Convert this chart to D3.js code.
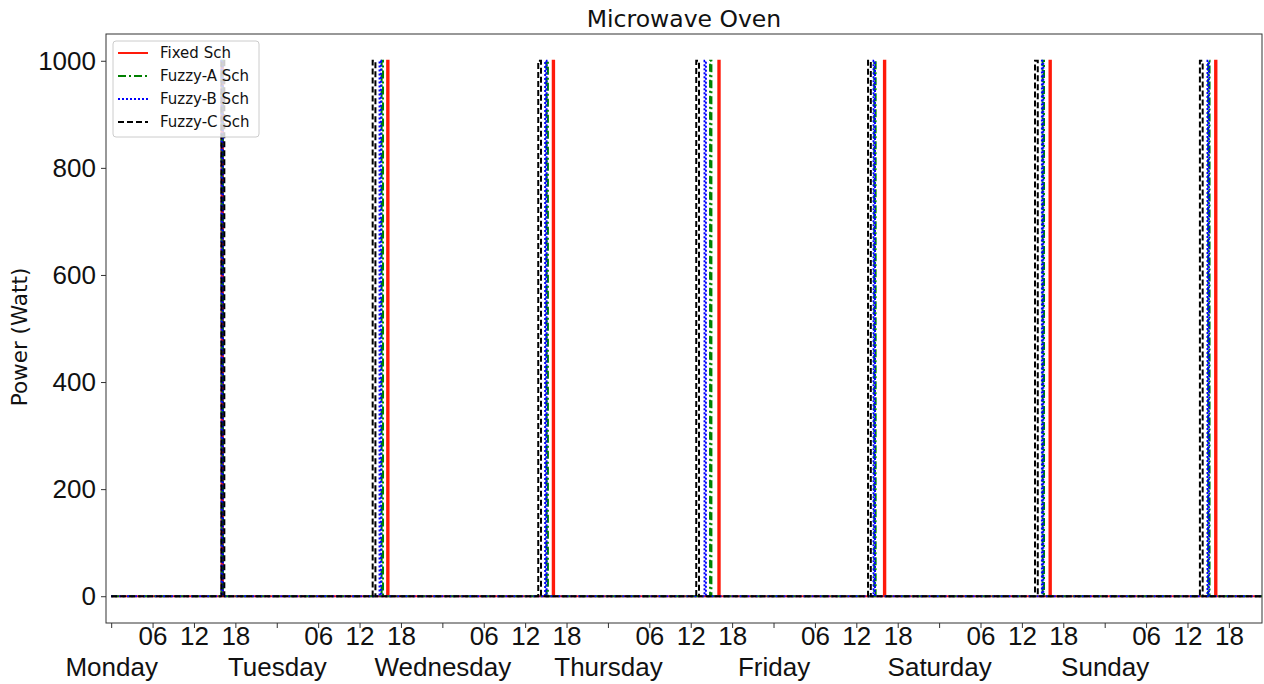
<!DOCTYPE html>
<html>
<head>
<meta charset="utf-8">
<script src="https://cdn.jsdelivr.net/npm/d3@7"></script>
<style>
  body { margin: 0; background: #fff; }
  svg { font-family: "DejaVu Sans", sans-serif; }
</style>
</head>
<body>
<svg id="chart" width="1264" height="684"></svg>
<script>
// Hours counted from Monday 00:00
const days = ["Monday", "Tuesday", "Wednesday", "Thursday", "Friday", "Saturday", "Sunday"];
const hourLabels = ["06", "12", "18"];
const yTicks = [0, 200, 400, 600, 800, 1000];

// Switch-on times (hour of the week) of each schedule
const fixedOn  = [16.0, 40.0, 64.0, 88.0, 112.0, 136.0, 160.0];
const fuzzyAOn = [16.0, 39.2, 63.1, 86.8, 110.6, 135.0, 159.0];
const fuzzyBOn = [16.0, 38.9, 62.9, 86.0, 110.5, 134.9, 158.9];
const fuzzyCOn = [16.0, 37.9, 61.9, 84.8, 109.7, 133.9, 157.8];

const onPower = 1000;      // W
const onHours = [0.2, 0.2, 0.2, 0.4]; // duration of each run, per schedule
const weekEnd = 168;

const series = [
  { name: "Fixed Sch",   on: fixedOn,  color: "#ff1a0a", dash: null },
  { name: "Fuzzy-A Sch", on: fuzzyAOn, color: "#008000", dash: "8,3,2,3" },
  { name: "Fuzzy-B Sch", on: fuzzyBOn, color: "#0000ff", dash: "2,2" },
  { name: "Fuzzy-C Sch", on: fuzzyCOn, color: "#000000", dash: "6,3" }
];

const CHART = { left: 106, right: 1262, top: 34, bottom: 623 };
const FONT = 26;

const svg = d3.select("#chart");

const x = d3.scaleLinear().domain([-0.75, 166.8]).range([CHART.left, CHART.right]);
const y = d3.scaleLinear().domain([-50, 1050]).range([CHART.bottom, CHART.top]);

// step profile for one schedule
const profile = (on, dur) => {
  const pts = [[0, 0]];
  on.forEach(t => {
    pts.push([t, 0], [t, onPower], [t + dur, onPower], [t + dur, 0]);
  });
  pts.push([weekEnd, 0]);
  return pts;
};

svg.append("clipPath").attr("id", "clip")
  .append("rect")
  .attr("x", CHART.left).attr("y", CHART.top)
  .attr("width", CHART.right - CHART.left).attr("height", CHART.bottom - CHART.top);

const line = d3.line().x(d => x(d[0])).y(d => y(d[1]));

const plot = svg.append("g").attr("clip-path", "url(#clip)");
series.forEach((s, i) => {
  plot.append("path")
    .datum(profile(s.on, onHours[i]))
    .attr("d", line)
    .attr("fill", "none")
    .attr("stroke", s.color)
    .attr("stroke-width", 2)
    .attr("stroke-dasharray", s.dash);
});

// frame
svg.append("rect")
  .attr("x", CHART.left).attr("y", CHART.top)
  .attr("width", CHART.right - CHART.left).attr("height", CHART.bottom - CHART.top)
  .attr("fill", "none").attr("stroke", "#333").attr("stroke-width", 1);

// y axis
const yAxis = svg.append("g")
  .attr("transform", `translate(${CHART.left},0)`)
  .call(d3.axisLeft(y).tickValues(yTicks).tickSize(5).tickPadding(5).tickFormat(d3.format("d")));
yAxis.select(".domain").remove();
yAxis.selectAll("text").style("font-size", FONT + "px").attr("fill", "#111");
yAxis.selectAll("line").attr("stroke", "#333");

// x axis: hour ticks every 6h, labels only for 06/12/18
const tickHours = d3.range(0, 167, 6);
const xAxis = svg.append("g")
  .attr("transform", `translate(0,${CHART.bottom})`)
  .call(d3.axisBottom(x).tickValues(tickHours).tickSize(5).tickPadding(-1)
    .tickFormat(h => h % 24 === 0 ? "" : hourLabels[(h % 24) / 6 - 1]));
xAxis.select(".domain").remove();
xAxis.selectAll("text").style("font-size", FONT + "px").attr("fill", "#111");
xAxis.selectAll("line").attr("stroke", "#333");

// day names below midnight ticks
const dayAxis = svg.append("g")
  .attr("transform", `translate(0,${CHART.bottom + 35})`)
  .call(d3.axisBottom(x).tickValues(days.map((d, i) => i * 24)).tickSize(0).tickPadding(0)
    .tickFormat((h, i) => days[i]));
dayAxis.select(".domain").remove();
dayAxis.selectAll("text").style("font-size", FONT + "px").attr("fill", "#111");

// title and y label
svg.append("text")
  .attr("x", (CHART.left + CHART.right) / 2).attr("y", 27)
  .attr("text-anchor", "middle").style("font-size", "23.5px").attr("fill", "#111")
  .text("Microwave Oven");

svg.append("text")
  .attr("transform", `translate(27,337) rotate(-90)`)
  .attr("text-anchor", "middle").style("font-size", "21.5px").attr("fill", "#111")
  .text("Power (Watt)");

// legend
const legend = svg.append("g").attr("transform", "translate(113,41)");
legend.append("rect")
  .attr("width", 146).attr("height", 96).attr("rx", 3)
  .attr("fill", "#fff").attr("fill-opacity", 0.8)
  .attr("stroke", "#ccc");
const items = legend.selectAll(".item").data(series).enter().append("g")
  .attr("transform", (d, i) => `translate(0,${12 + i * 23})`);
items.append("line")
  .attr("x1", 5).attr("x2", 35)
  .attr("stroke", d => d.color).attr("stroke-width", 2)
  .attr("stroke-dasharray", d => d.dash);
items.append("text")
  .attr("x", 47).attr("dy", "0.35em")
  .style("font-size", "15px").attr("fill", "#111")
  .text(d => d.name);
</script>
</body>
</html>
